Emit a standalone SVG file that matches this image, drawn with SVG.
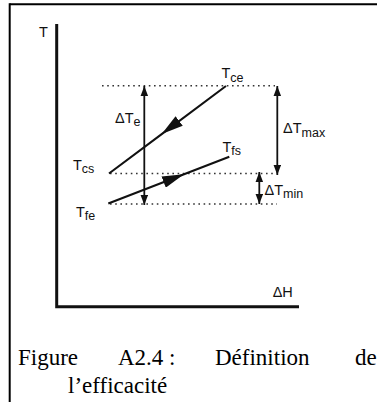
<svg xmlns="http://www.w3.org/2000/svg" width="377" height="402" viewBox="0 0 377 402">
<style>
.lbl{font-family:"Liberation Sans",Arial,sans-serif;font-size:14.5px;fill:#111}
.sub{font-size:12.5px}
.cap{font-family:"Liberation Serif","Times New Roman",serif;font-size:23px;fill:#000}
.dot{stroke:#333;stroke-width:1.6;stroke-dasharray:1.6 3.6;fill:none}
.arr{stroke:#111;stroke-width:1.8;fill:none;marker-start:url(#sm);marker-end:url(#sm)}
.flow{stroke:#111;stroke-width:2.1;fill:none;marker-mid:url(#big)}
</style>
<defs>
<marker id="sm" markerUnits="userSpaceOnUse" markerWidth="10" markerHeight="8" refX="8" refY="3" orient="auto-start-reverse" viewBox="0 0 8 6">
<path d="M0,0 L8,3 L0,6 Z" fill="#111"/>
</marker>
<marker id="big" markerUnits="userSpaceOnUse" markerWidth="22" markerHeight="12" refX="20" refY="5.5" orient="auto" viewBox="0 0 20 11">
<path d="M0,0 L20,5.5 L0,11 Z" fill="#111"/>
</marker>
</defs>
<g id="frame" stroke="#000" stroke-width="2" fill="none">
<line x1="9.7" y1="4.3" x2="377" y2="4.3"/>
<line x1="9.7" y1="3.3" x2="9.7" y2="402"/>
</g>
<g id="axes" stroke="#111" stroke-width="3" fill="none">
<polyline points="56.7,24 56.7,306.7 299,306.7"/>
</g>
<g id="connectors">
<line class="dot" x1="102" y1="85.7" x2="275" y2="85.7"/>
<line class="dot" x1="110" y1="173.5" x2="276" y2="173.5"/>
<line class="dot" x1="110" y1="204" x2="277" y2="204"/>
<line class="arr" x1="144.3" y1="86" x2="144.3" y2="205"/>
<line class="arr" x1="277.3" y1="86" x2="277.3" y2="175"/>
<line class="arr" x1="259.3" y1="172" x2="259.3" y2="204"/>
<path class="flow" d="M226,86 L161.7,134.1 L109,173.5"/>
<path class="flow" d="M108.3,203.5 L184,174.2 L229.3,156.7"/>
</g>
<g id="label-T"><text class="lbl" x="39" y="37" font-size="12.5">T</text></g>
<g id="label-Tce"><text class="lbl" x="221.5" y="77.7">T<tspan class="sub" dy="3.8">ce</tspan></text></g>
<g id="label-dTe"><text class="lbl" x="115" y="122.7">ΔT<tspan class="sub" dy="3">e</tspan></text></g>
<g id="label-dTmax"><text class="lbl" x="283" y="133">ΔT<tspan class="sub" dy="3.5">max</tspan></text></g>
<g id="label-Tcs"><text class="lbl" x="73" y="170">T<tspan class="sub" dy="3.3">cs</tspan></text></g>
<g id="label-Tfs"><text class="lbl" x="222.5" y="152">T<tspan class="sub" dy="3.3">fs</tspan></text></g>
<g id="label-dTmin"><text class="lbl" x="264.5" y="195">ΔT<tspan class="sub" dy="3.3">min</tspan></text></g>
<g id="label-Tfe"><text class="lbl" x="76" y="216.7">T<tspan class="sub" dy="3.3">fe</tspan></text></g>
<g id="label-dH"><text class="lbl" x="272.7" y="297.3" font-size="11.5">ΔH</text></g>
<g id="caption">
<text class="cap" x="18" y="365">Figure</text>
<text class="cap" x="118" y="365">A2.4 :</text>
<text class="cap" x="215" y="365">Définition</text>
<text class="cap" x="355" y="365">de</text>
<text class="cap" x="68" y="393">l’efficacité</text>
</g>
</svg>
